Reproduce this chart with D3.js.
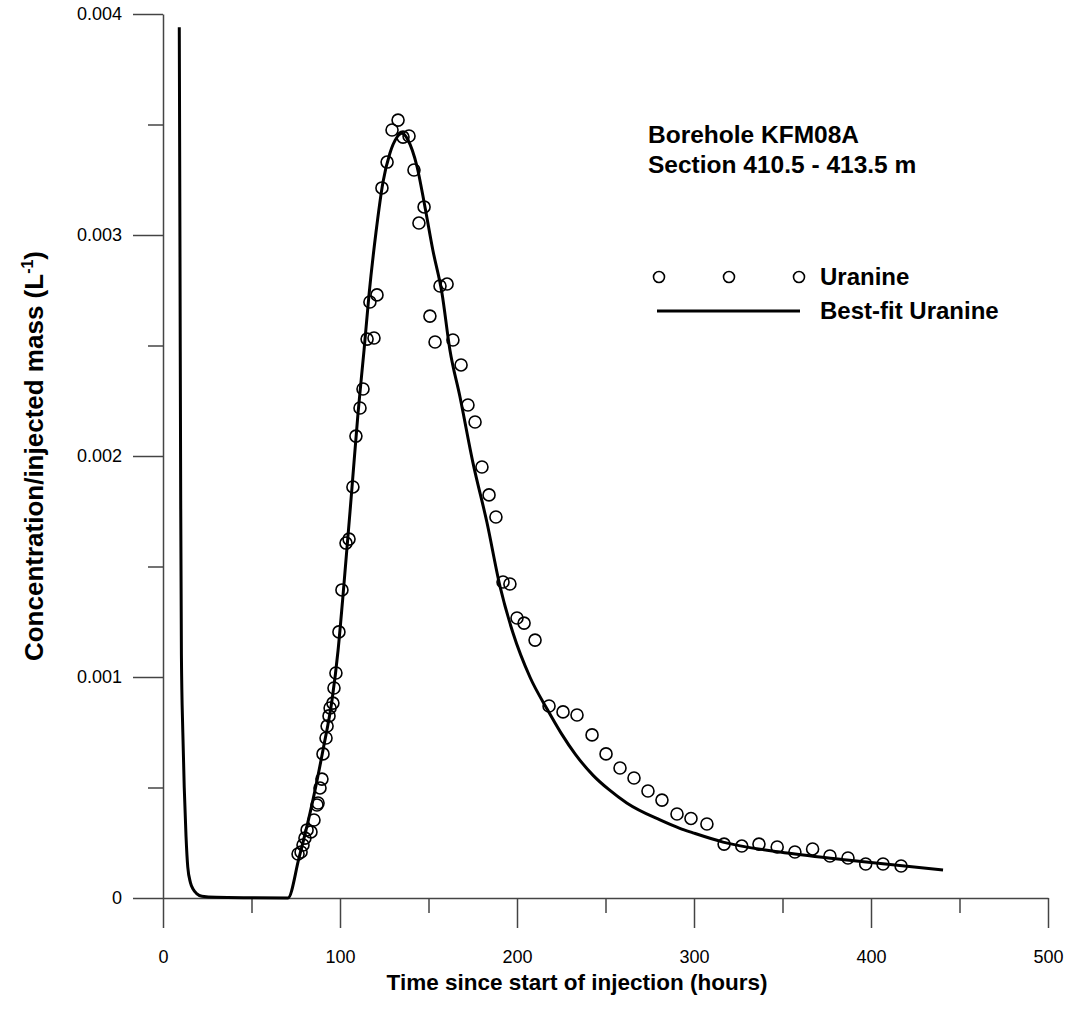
<!DOCTYPE html>
<html>
<head>
<meta charset="utf-8">
<script src="https://cdn.jsdelivr.net/npm/d3@7"></script>
<style>
  body { margin: 0; background: #fff; }
  svg { display: block; font-family: "Liberation Sans", Arial, sans-serif; }
</style>
</head>
<body>
<svg id="chart" width="1067" height="1009"></svg>
<script>
// measured values (Uranine breakthrough)
var obsTime = [76.3, 78.0, 79.1, 80.2, 81.4, 83.6, 85.3, 87.0, 87.6, 88.7, 89.8, 90.4, 92.1, 92.7, 93.8, 94.4,
    96.0, 96.6, 97.7, 99.4, 101.1, 103.4, 105.1, 107.3, 109.0, 111.3, 113.0, 115.3, 116.9, 119.2, 120.9,
    123.7, 126.6, 129.4, 132.8, 135.6, 139.0, 141.8, 144.6, 147.5, 150.8, 153.7, 156.5, 160.5, 163.8,
    168.4, 172.3, 176.3, 180.2, 184.2, 188.1, 192.1, 196.0, 200.0, 204.0, 210.2, 218.1, 226.0, 233.9,
    242.4, 250.3, 258.2, 266.1, 274.0, 281.9, 290.4, 298.3, 307.3, 317, 327, 336.7, 347, 357, 367,
    376.8, 387, 397, 406.8, 417];
var obsConc = [0.000199, 0.000208, 0.00024, 0.000271, 0.000308, 0.000299, 0.000353, 0.000421, 0.00043,
    0.000498, 0.000538, 0.000652, 0.000724, 0.000778, 0.000824, 0.00086, 0.000882, 0.00095, 0.001018,
    0.001204, 0.001394, 0.001606, 0.001624, 0.00186, 0.00209, 0.002217, 0.002303, 0.002529, 0.002697,
    0.002534, 0.002729, 0.003213, 0.00333, 0.003475, 0.00352, 0.003443, 0.003448, 0.003294, 0.003054,
    0.003127, 0.002633, 0.002516, 0.002769, 0.002778, 0.002525, 0.002412, 0.002231, 0.002154, 0.00195,
    0.001824, 0.001724, 0.00143, 0.001421, 0.001267, 0.001244, 0.001167, 0.000869, 0.000842, 0.000828,
    0.000738, 0.000652, 0.000588, 0.000543, 0.000484, 0.000443, 0.00038, 0.00036, 0.000335, 0.000244,
    0.000235, 0.000244, 0.000231, 0.000208, 0.000222, 0.00019, 0.000181, 0.000154, 0.000154, 0.000145];

// best-fit curve
var fitTime = [9.2, 9.6, 10.0, 10.4, 11.2, 12.0, 13.0, 14.0, 15.5, 17.0, 19.0, 22.0, 30.0, 50.0, 70.6,
    76.8, 84.7, 90.4, 95.5, 98.9, 101.5, 106.8, 110.2, 113.6, 116.4, 120.3, 124.3, 128.2, 132.0, 135.0,
    138.4, 143.5, 148.0, 152.5, 157.6, 162.1, 167.8, 175.1, 183.0, 190.4, 197.7, 207.3, 217.0, 225.0,
    233.0, 243.0, 252.0, 262.0, 280.8, 292.0, 299.4, 316.4, 348.6, 386.4, 440.7];
var fitConc = [0.00394, 0.0029, 0.0018, 0.0011, 0.00075, 0.0005, 0.00028, 0.00014, 0.00007, 0.00004,
    0.00002, 0.000008, 0.000003, 0.000001, 0, 0.00018, 0.000443, 0.00067, 0.000896, 0.00112, 0.00135,
    0.00186, 0.002195, 0.00248, 0.00273, 0.00301, 0.00324, 0.00337, 0.00344, 0.00346, 0.00343, 0.00331,
    0.003127, 0.00293, 0.002738, 0.00248, 0.002267, 0.00197, 0.0017, 0.00141, 0.0012, 0.001, 0.000855,
    0.000745, 0.00065, 0.000555, 0.00049, 0.00043, 0.000353, 0.000315, 0.000295, 0.000253, 0.000208,
    0.000172, 0.000127];

var xMajor = [0, 100, 200, 300, 400, 500];
var xMinor = [50, 150, 250, 350, 450];
var yMajor = [0, 0.001, 0.002, 0.003, 0.004];
var yMinor = [0.0005, 0.0015, 0.0025, 0.0035];
var yLabels = ["0", "0.001", "0.002", "0.003", "0.004"];

var svg = d3.select('#chart');

var x = d3.scaleLinear().domain([0, 500]).range([163, 1048]);
var y = d3.scaleLinear().domain([0, 0.004]).range([898, 14]);

var axisColor = '#444';

// minor ticks first, no labels
svg.append('g')
    .attr('transform', 'translate(0,' + y(0) + ')')
    .call(d3.axisBottom(x).tickValues(xMinor).tickSize(15).tickSizeOuter(0).tickFormat(''))
    .call(g => g.select('.domain').remove());
svg.append('g')
    .attr('transform', 'translate(' + x(0) + ',0)')
    .call(d3.axisLeft(y).tickValues(yMinor).tickSize(15).tickSizeOuter(0).tickFormat(''))
    .call(g => g.select('.domain').remove());

var xAxis = svg.append('g')
    .attr('transform', 'translate(0,' + y(0) + ')')
    .call(d3.axisBottom(x).tickValues(xMajor).tickSize(30).tickSizeOuter(0).tickPadding(22).tickFormat(d3.format('d')));

var yAxis = svg.append('g')
    .attr('transform', 'translate(' + x(0) + ',0)')
    .call(d3.axisLeft(y).tickValues(yMajor).tickSize(30).tickSizeOuter(0).tickPadding(11)
        .tickFormat((d, i) => yLabels[i]));

svg.selectAll('.tick text')
    .attr('font-family', 'Liberation Sans, Arial, sans-serif')
    .attr('font-size', 18)
    .attr('fill', '#000');
svg.selectAll('.tick line').attr('stroke', axisColor).attr('stroke-width', 1.5);
svg.selectAll('.domain').attr('stroke', axisColor).attr('stroke-width', 1.5);

// best-fit line
var fit = fitTime.map((t, i) => [t, fitConc[i]]);
var line = d3.line()
    .x(d => x(d[0]))
    .y(d => y(d[1]))
    .curve(d3.curveMonotoneX);

svg.append('path')
    .datum(fit)
    .attr('d', line)
    .attr('fill', 'none')
    .attr('stroke', '#000')
    .attr('stroke-width', 3)
    .attr('stroke-linejoin', 'round');

// observed points
var obs = obsTime.map((t, i) => [t, obsConc[i]]);
svg.append('g')
    .selectAll('circle')
    .data(obs)
    .enter()
    .append('circle')
    .attr('cx', d => x(d[0]))
    .attr('cy', d => y(d[1]))
    .attr('r', 6)
    .attr('fill', 'none')
    .attr('stroke', '#000')
    .attr('stroke-width', 1.6);

// axis titles
svg.append('text')
    .attr('x', 577)
    .attr('y', 990)
    .attr('text-anchor', 'middle')
    .style('font-size', '22.5px')
    .style('font-weight', 'bold')
    .text('Time since start of injection (hours)');

var yt = svg.append('text')
    .attr('transform', 'translate(43,456) rotate(-90)')
    .attr('text-anchor', 'middle')
    .style('font-size', '26px')
    .style('font-weight', 'bold');
yt.append('tspan').text('Concentration/injected mass (L');
yt.append('tspan').attr('dy', -10).style('font-size', '16px').text('-1');
yt.append('tspan').attr('dy', 10).text(')');

// annotation
svg.append('text')
    .attr('x', 648).attr('y', 143)
    .style('font-size', '24.5px').style('font-weight', 'bold')
    .text('Borehole KFM08A');
svg.append('text')
    .attr('x', 648).attr('y', 173)
    .style('font-size', '24.5px').style('font-weight', 'bold')
    .text('Section 410.5 - 413.5 m');

// legend
var legend = svg.append('g');
legend.selectAll('circle')
    .data([659, 729, 799])
    .enter()
    .append('circle')
    .attr('cx', d => d)
    .attr('cy', 277)
    .attr('r', 5.5)
    .attr('fill', 'none')
    .attr('stroke', '#000')
    .attr('stroke-width', 1.6);
legend.append('text')
    .attr('x', 820).attr('y', 285)
    .style('font-size', '24px').style('font-weight', 'bold')
    .text('Uranine');
legend.append('line')
    .attr('x1', 657).attr('x2', 800)
    .attr('y1', 311).attr('y2', 311)
    .attr('stroke', '#000')
    .attr('stroke-width', 3);
legend.append('text')
    .attr('x', 820).attr('y', 319)
    .style('font-size', '24px').style('font-weight', 'bold')
    .text('Best-fit Uranine');
</script>
</body>
</html>
